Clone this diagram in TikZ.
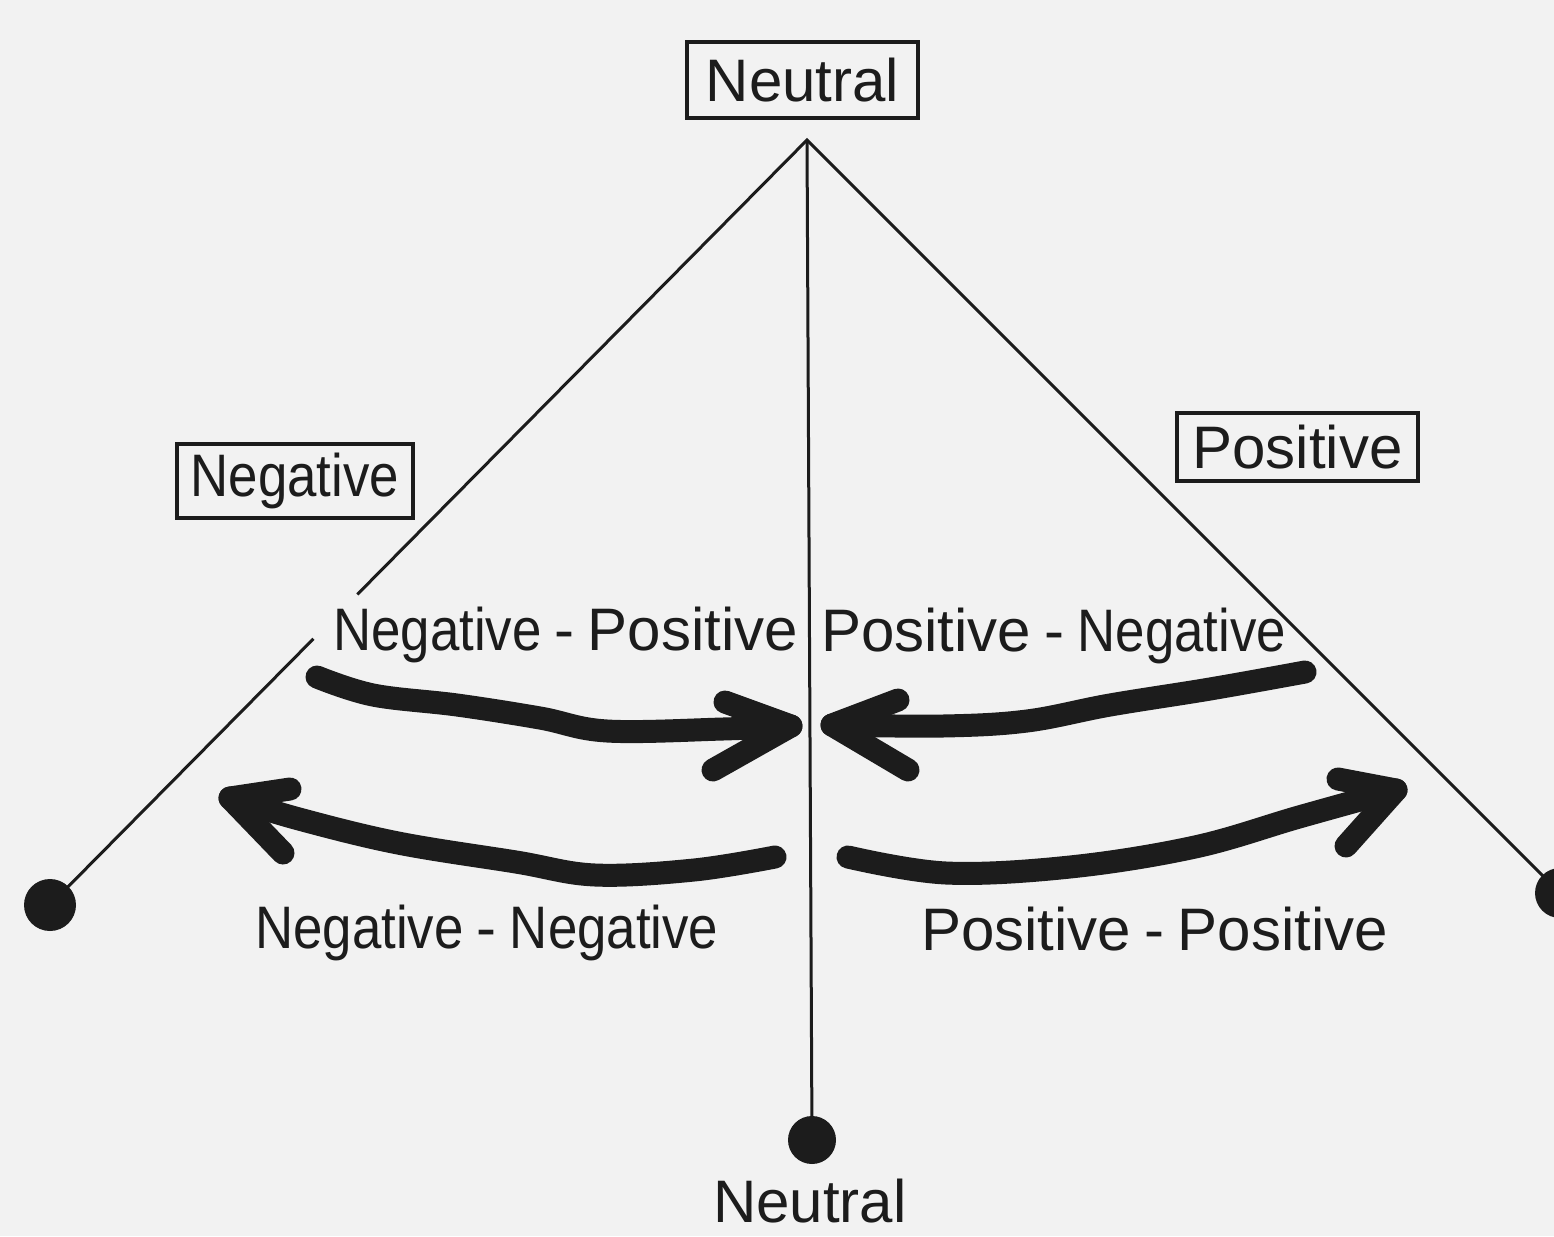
\documentclass[tikz,border=0pt]{standalone}
\usepackage{fontspec}
\usepackage{graphicx}
\setmainfont{Liberation Sans}
\usetikzlibrary{calc}
\definecolor{paper}{RGB}{242,242,242}
\definecolor{ink}{RGB}{28,28,28}
\newcommand\negw{\scalebox{0.88}[1]{Negative}}
\newcommand\dsh{\hspace{0.22em}-\hspace{0.22em}}
\tikzset{
  lbl/.style={inner sep=0pt, anchor=base west, text=ink, font=\fontsize{60}{72}\selectfont},
  boxed/.style={draw=ink, line width=4pt, inner sep=0pt, text=ink, font=\fontsize{60}{72}\selectfont},
  axisline/.style={draw=ink, line width=3pt, line join=miter},
  dot/.style={circle, fill=ink, inner sep=0pt},
  stroke/.style={draw=ink, line width=23pt, line cap=round, line join=round},
}
\begin{document}
\begin{tikzpicture}[x=1pt,y=-1pt]
\fill[paper] (0,0) rectangle (1554,1236);
\useasboundingbox (0,0) rectangle (1554,1236);

% boxes
\node[boxed, minimum width=231pt, minimum height=76pt] (ntop) at (802.5,80) {Neutral};
\node[boxed, minimum width=236pt, minimum height=74pt] (nneg) at (295,481) {\negw};
\node[boxed, minimum width=241pt, minimum height=68pt] (npos) at (1297.5,447) {Positive};

% end points
\coordinate (apex) at (807,140);
\node[dot, minimum size=52pt] (ldot) at (50,905) {};
\node[dot, minimum size=50pt] (rdot) at (1560,893) {};
\node[dot, minimum size=48pt] (bdot) at (812,1140) {};

% axes
\draw[axisline] (apex) -- (bdot.center);
\draw[axisline] ($(apex)!0.594!(ldot.center)$) -- (apex) -- (rdot.center);
\draw[axisline] ($(apex)!0.652!(ldot.center)$) -- (ldot.center);

% labels
\node[lbl] (np) at (333,650) {\negw\dsh Positive};
\node[lbl] (pn) at (821,651) {Positive\dsh\negw};
\node[lbl] (nn) at (255,948) {\negw\dsh\negw};
\node[lbl] (pp) at (921,950) {Positive\dsh Positive};
\node[lbl] (nbot) at (713,1222) {Neutral};

% arrow 1: Negative-Positive (to the centre)
\coordinate (a1t) at (317,677);
\coordinate (a1h) at (791,726);
\draw[stroke] plot[smooth, tension=0.6] coordinates {(a1t) (373,695) (457,705) (540,718) (607,731) (723,729) (a1h)};
\draw[stroke] (725,702) -- (a1h) -- (713,770);

% arrow 2: Positive-Negative (to the centre)
\coordinate (a2t) at (1305,672);
\coordinate (a2h) at (832,725);
\draw[stroke] plot[smooth, tension=0.6] coordinates {(a2t) (1210,689) (1110,705) (1027,721) (943,726) (a2h)};
\draw[stroke] (898,700) -- (a2h) -- (908,770);

% arrow 3: Negative-Negative (away from centre)
\coordinate (a3t) at (775,857);
\coordinate (a3h) at (230,798);
\draw[stroke] plot[smooth, tension=0.6] coordinates {(a3t) (694,870) (595,875) (516,862) (398,843) (299,819) (a3h)};
\draw[stroke] (290,789) -- (a3h) -- (283,853);

% arrow 4: Positive-Positive (away from centre)
\coordinate (a4t) at (848,857);
\coordinate (a4h) at (1396,790);
\draw[stroke] plot[smooth, tension=0.6] coordinates {(a4t) (946,873) (1070,867) (1195,847) (1299,817) (a4h)};
\draw[stroke] (1338,779) -- (a4h) -- (1346,846);
\end{tikzpicture}
\end{document}
